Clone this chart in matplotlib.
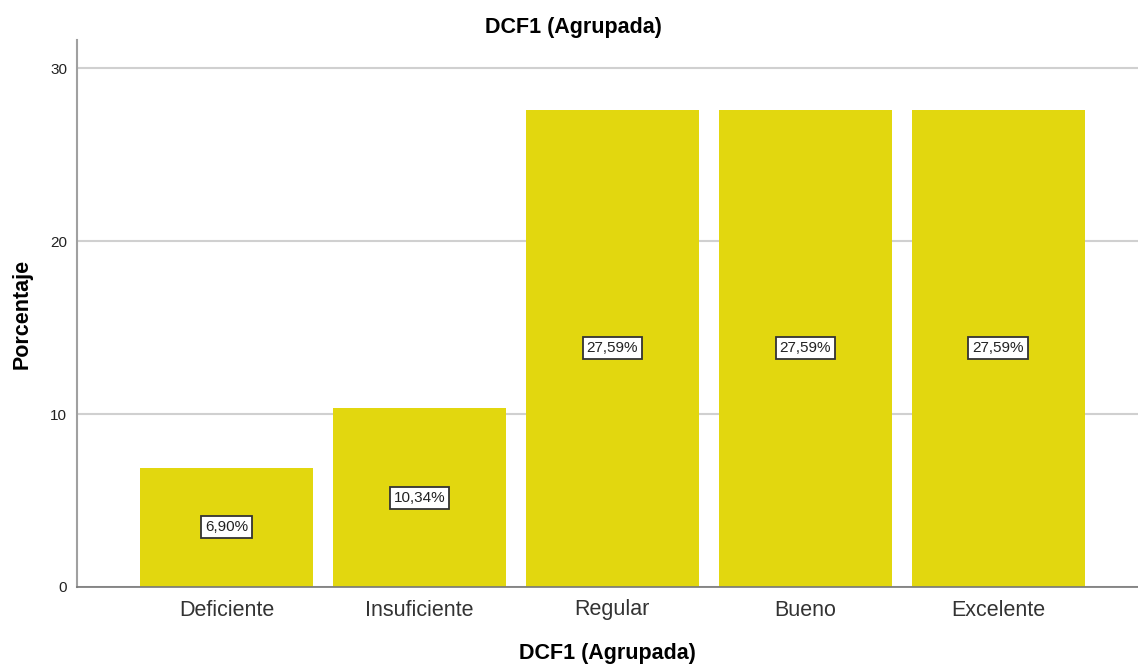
import matplotlib
matplotlib.use("Agg")
import matplotlib.pyplot as plt

categories = ["Deficiente", "Insuficiente", "Regular", "Bueno", "Excelente"]
values = [6.90, 10.34, 27.59, 27.59, 27.59]
labels = ["6,90%", "10,34%", "27,59%", "27,59%", "27,59%"]
yticks = [0, 10, 20, 30]

plt.rcParams['font.family'] = ['Liberation Sans', 'DejaVu Sans']

fig = plt.figure(figsize=(11.38, 6.66), dpi=100)
ax = fig.add_axes([77/1138, 79/666, 1 - 77/1138, (587-40)/666])

x = list(range(len(categories)))
ax.bar(x, values, width=0.896, color="#E2D70F", zorder=2)
for xi, v, lab in zip(x, values, labels):
    ax.text(xi, v/2, lab, ha="center", va="center", fontsize=11, color="#222222", zorder=3,
            bbox=dict(boxstyle="square,pad=0.26", facecolor="white", edgecolor="#333333", linewidth=1.3))

ax.set_xlim(-0.775, 4.725)
ax.set_ylim(0, 31.62)
ax.set_yticks(yticks)
ax.set_xticks(x)
ax.set_xticklabels(categories, fontsize=15.5, color="#333333")
ax.tick_params(axis="y", labelsize=11, colors="#222222", length=0, pad=7)
ax.tick_params(axis="x", length=0, pad=9)
ax.grid(axis="y", color="#d0d0d0", linewidth=1.5, zorder=0)
ax.set_axisbelow(True)
for s in ["top", "right"]:
    ax.spines[s].set_visible(False)
ax.spines["left"].set_color("#a0a0a0")
ax.spines["left"].set_linewidth(1.5)
ax.spines["bottom"].set_color("#777777")
ax.spines["bottom"].set_linewidth(1.2)

ax.set_ylabel("Porcentaje", fontsize=15.5, fontweight="bold", labelpad=13)
ax.set_xlabel("DCF1 (Agrupada)", fontsize=15.5, fontweight="bold", labelpad=16)
fig.text(573/1138, 1 - 27/666, "DCF1 (Agrupada)", ha="center", va="center", fontsize=15.5, fontweight="bold")

fig.savefig("out.png", dpi=100)
